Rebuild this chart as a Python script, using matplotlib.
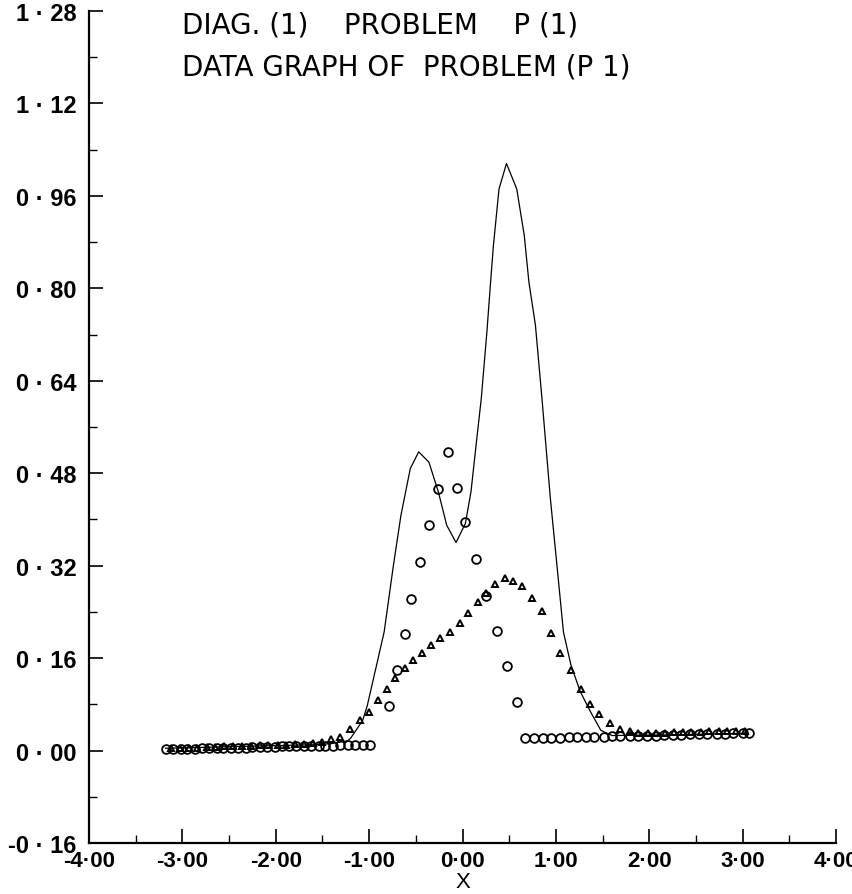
import matplotlib
matplotlib.use("Agg")
import matplotlib.pyplot as plt
from matplotlib.ticker import MultipleLocator, FuncFormatter

# solid curve
line_x = [-3.18, -2.40, -1.60, -1.40, -1.23, -1.20, -1.07, -1.02, -0.84, -0.74,
          -0.66, -0.56, -0.47, -0.36, -0.26, -0.17, -0.07, 0.03, 0.09, 0.14,
          0.20, 0.26, 0.30, 0.33, 0.39, 0.47, 0.58, 0.66, 0.71, 0.78,
          0.85, 0.94, 1.01, 1.08, 1.16, 1.26, 1.37, 1.48, 1.60, 2.20, 3.05]
line_y = [0.004, 0.007, 0.010, 0.012, 0.017, 0.021, 0.052, 0.078, 0.205, 0.321,
          0.407, 0.488, 0.517, 0.499, 0.448, 0.390, 0.360, 0.393, 0.448, 0.522,
          0.609, 0.724, 0.811, 0.874, 0.972, 1.016, 0.972, 0.892, 0.811, 0.736,
          0.609, 0.436, 0.321, 0.205, 0.148, 0.102, 0.067, 0.035, 0.026, 0.027, 0.030]

# circles
circ_x = [-3.18, -3.10, -3.02, -2.95, -2.87, -2.79, -2.71, -2.63, -2.56, -2.48,
          -2.40, -2.32, -2.25, -2.17, -2.09, -2.01, -1.93, -1.86, -1.78, -1.70,
          -1.62, -1.54, -1.47, -1.39, -1.31, -1.23, -1.15, -1.07, -0.99,
          -0.79, -0.70, -0.62, -0.55, -0.46, -0.36, -0.26, -0.16, -0.06, 0.03,
          0.14, 0.25, 0.37, 0.48, 0.58,
          0.67, 0.76, 0.86, 0.95, 1.04, 1.14, 1.23, 1.32, 1.41, 1.51,
          1.60, 1.69, 1.79, 1.88, 1.97, 2.07, 2.16, 2.25, 2.34, 2.44,
          2.53, 2.62, 2.72, 2.81, 2.90, 3.00, 3.07]
circ_y = [0.002, 0.002, 0.003, 0.003, 0.003, 0.004, 0.004, 0.004, 0.005, 0.005,
          0.005, 0.005, 0.006, 0.006, 0.006, 0.006, 0.007, 0.007, 0.007, 0.007,
          0.008, 0.008, 0.008, 0.008, 0.009, 0.009, 0.009, 0.010, 0.010,
          0.077, 0.139, 0.202, 0.263, 0.326, 0.390, 0.452, 0.517, 0.454, 0.396,
          0.331, 0.267, 0.207, 0.147, 0.084,
          0.021, 0.021, 0.022, 0.022, 0.022, 0.023, 0.023, 0.023, 0.024, 0.024,
          0.025, 0.025, 0.025, 0.026, 0.026, 0.026, 0.027, 0.027, 0.027, 0.028,
          0.028, 0.028, 0.029, 0.029, 0.030, 0.030, 0.031]

# triangles
tri_x = [-3.12, -3.03, -2.93, -2.84, -2.74, -2.65, -2.55, -2.46, -2.36, -2.27,
         -2.17, -2.08, -1.98, -1.89, -1.79, -1.70, -1.60, -1.51, -1.41, -1.31,
         -1.21, -1.10, -1.00, -0.91, -0.81, -0.72, -0.62, -0.53, -0.43, -0.34,
         -0.24, -0.14, -0.03, 0.06, 0.16, 0.25, 0.35, 0.45, 0.54, 0.64,
         0.74, 0.85, 0.95, 1.04, 1.16, 1.27, 1.36, 1.46, 1.58, 1.69,
         1.79, 1.88, 1.98, 2.07, 2.17, 2.26, 2.36, 2.45, 2.55, 2.64,
         2.74, 2.83, 2.93, 3.02]
tri_y = [0.004, 0.004, 0.005, 0.005, 0.006, 0.006, 0.007, 0.007, 0.008, 0.008,
         0.009, 0.009, 0.010, 0.010, 0.011, 0.012, 0.013, 0.015, 0.020, 0.024,
         0.038, 0.052, 0.067, 0.087, 0.107, 0.125, 0.142, 0.157, 0.168, 0.182,
         0.195, 0.206, 0.221, 0.238, 0.257, 0.273, 0.289, 0.298, 0.293, 0.285,
         0.264, 0.241, 0.204, 0.168, 0.139, 0.106, 0.081, 0.064, 0.047, 0.038,
         0.033, 0.031, 0.031, 0.031, 0.031, 0.032, 0.032, 0.032, 0.032, 0.033,
         0.033, 0.033, 0.034, 0.034]

title1 = "DIAG. (1)    PROBLEM    P (1)"
title2 = "DATA GRAPH OF  PROBLEM (P 1)"


def dotfmt(v, pos, spaced):
    s = "%.2f" % v
    if s == "-0.00":
        s = "0.00"
    a, b = s.split(".")
    return a + (" \u00b7 " if spaced else "\u00b7") + b


tickfont = ["Liberation Sans", "DejaVu Sans"]

fig = plt.figure(figsize=(8.53, 8.95), dpi=100)
ax = fig.add_axes([0.1043, 0.057, 0.876, 0.9296])

ax.plot(line_x, line_y, "-", color="black", lw=0.9)
ax.plot(circ_x, circ_y, "o", mfc="none", mec="black", ms=6.3, mew=1.3)
ax.plot(tri_x, tri_y, "^", mfc="none", mec="black", ms=5, mew=1.4)

ax.set_xlim(-4.0, 4.0)
ax.set_ylim(-0.16, 1.28)
ax.xaxis.set_major_locator(MultipleLocator(1.0))
ax.xaxis.set_minor_locator(MultipleLocator(0.5))
ax.yaxis.set_major_locator(MultipleLocator(0.16))
ax.yaxis.set_minor_locator(MultipleLocator(0.08))
ax.xaxis.set_major_formatter(FuncFormatter(lambda v, p: dotfmt(v, p, False)))
ax.yaxis.set_major_formatter(FuncFormatter(lambda v, p: dotfmt(v, p, True)))

for s in ["top", "right"]:
    ax.spines[s].set_visible(False)
for s in ["left", "bottom"]:
    ax.spines[s].set_linewidth(1.6)

ax.tick_params(which="major", direction="in", length=10, width=1.2,
               labelsize=17)
ax.tick_params(axis="x", which="major", labelsize=16, pad=5)
ax.tick_params(which="minor", direction="in", length=6, width=1.0)
ax.tick_params(axis="y", which="major", pad=9)
for lab in ax.get_xticklabels() + ax.get_yticklabels():
    lab.set_fontweight("bold")
    lab.set_family(tickfont)

ax.set_xlabel("X", fontsize=16, family=tickfont, va="center")
ax.xaxis.set_label_coords(0.5, -0.046)

fig.text(0.213, 0.971, title1, fontsize=20, va="center", ha="left")
fig.text(0.213, 0.925, title2, fontsize=20, va="center", ha="left")

fig.savefig("out.png", dpi=100)
